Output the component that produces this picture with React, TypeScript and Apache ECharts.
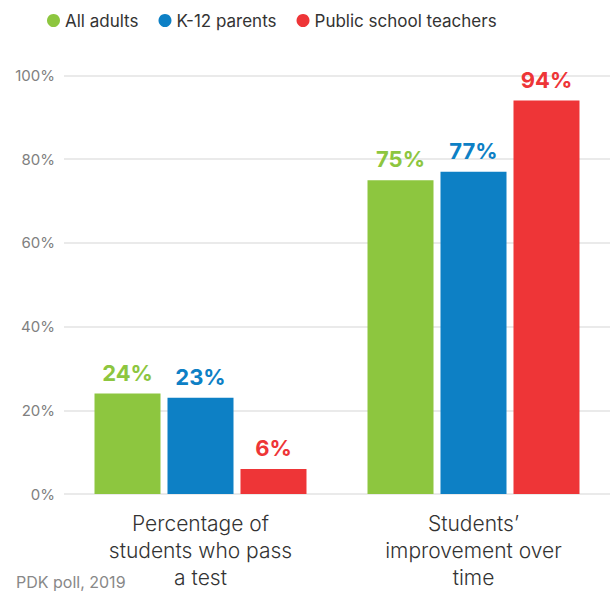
import React, { useEffect, useRef } from "react";
import * as echarts from "echarts";

const categories = ["Percentage of\nstudents who pass\na test", "Students’\nimprovement over\ntime"];
const seriesNames = ["All adults", "K-12 parents", "Public school teachers"];
const allAdults = [24, 75];
const k12Parents = [23, 77];
const teachers = [6, 94];
const yTicks = [0, 20, 40, 60, 80, 100];
const colors = ["#8dc63f", "#0d80c5", "#ee3537"];
const FONT = "Inter, 'Noto Sans', sans-serif";

export default function App() {
  const ref = useRef<HTMLDivElement>(null);
  useEffect(() => {
    if (!ref.current) return;
    const chart = echarts.init(ref.current, null, { renderer: "svg" });
    const data = [allAdults, k12Parents, teachers];
    chart.setOption({
      animation: false,
      textStyle: { fontFamily: FONT },
      legend: {
        left: 42,
        top: 7,
        icon: "circle",
        itemWidth: 13,
        itemHeight: 13,
        itemGap: 20,
        textStyle: { fontSize: 17, color: "#333", fontFamily: FONT, padding: [0, 0, 0, 0] },
        data: seriesNames,
      },
      graphic: [
        {
          type: "text",
          left: 16,
          top: 574,
          style: { text: "PDK poll, 2019", fontSize: 16, fill: "#888", fontFamily: FONT },
        },
      ],
      grid: { left: 64, right: -2, top: 75.5, bottom: 99, containLabel: false },
      xAxis: {
        type: "category",
        data: categories,
        axisLine: { show: false },
        axisTick: { show: false },
        axisLabel: {
          margin: 16,
          fontSize: 21,
          fontWeight: 300,
          lineHeight: 27,
          color: "#333",
          fontFamily: FONT,
        },
      },
      yAxis: {
        type: "value",
        min: 0,
        max: 100,
        interval: 20,
        axisLine: { show: false },
        axisTick: { show: false },
        splitLine: { lineStyle: { color: "#e3e3e3", width: 1.5 } },
        axisLabel: {
          margin: 9,
          fontSize: 15,
          color: "#808080",
          fontFamily: FONT,
          formatter: (v: number) => (yTicks.includes(v) ? v + "%" : ""),
        },
      },
      series: seriesNames.map((name, i) => ({
        name,
        type: "bar",
        data: data[i],
        barWidth: 66,
        barGap: "10.6%",
        itemStyle: { color: colors[i] },
        label: {
          show: true,
          position: "top",
          distance: 10,
          formatter: "{c}%",
          fontSize: 22,
          fontWeight: "bold",
          color: colors[i],
          fontFamily: FONT,
        },
      })),
    });
    return () => chart.dispose();
  }, []);
  return (
    <div
      ref={ref}
      style={{ position: "fixed", left: 0, top: 0, width: 610, height: 593, background: "#fff" }}
    />
  );
}
